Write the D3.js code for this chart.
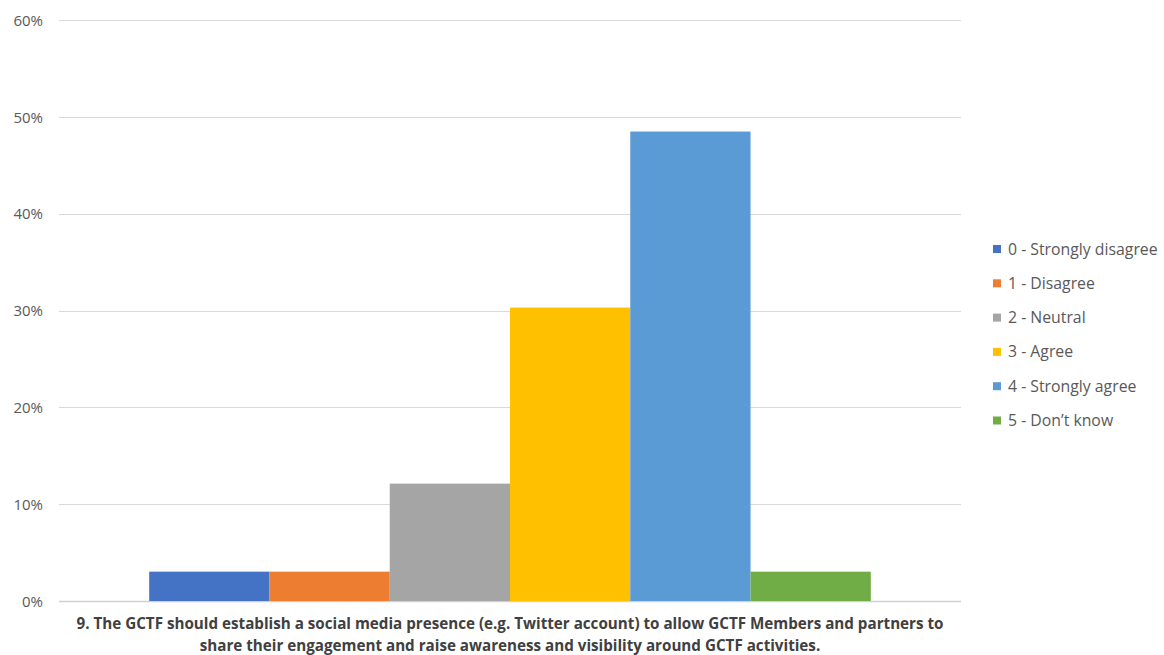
<!DOCTYPE html>
<html>
<head>
<meta charset="utf-8">
<script src="https://cdn.jsdelivr.net/npm/d3@7"></script>
<style>
  html, body { margin: 0; padding: 0; background: #fff; }
  svg { display: block; }
</style>
</head>
<body>
<svg id="chart" width="1164" height="655"></svg>
<script>
const categories = ["0 - Strongly disagree", "1 - Disagree", "2 - Neutral", "3 - Agree", "4 - Strongly agree", "5 - Don\u2019t know"];
const values = [0.0303, 0.0303, 0.1212, 0.3030, 0.4848, 0.0303];
const colors = ["#4472C4", "#ED7D31", "#A5A5A5", "#FFC000", "#5B9BD5", "#70AD47"];
const yTicks = [0, 0.1, 0.2, 0.3, 0.4, 0.5, 0.6];
const titleLines = [
  "9. The GCTF should establish a social media presence (e.g. Twitter account) to allow GCTF Members and partners to",
  "share their engagement and raise awareness and visibility around GCTF activities."
];

const font = "'Open Sans', 'Liberation Sans', sans-serif";
const svg = d3.select("#chart");
const plot = { left: 59, right: 961, top: 20, bottom: 601 };

const y = d3.scaleLinear().domain([0, 0.6]).range([plot.bottom, plot.top]);
const group = d3.scaleBand().domain(["q"]).range([plot.left, plot.right]).paddingInner(0).paddingOuter(0.125);
const x = d3.scaleBand().domain(categories).range([0, group.bandwidth()]).padding(0);

// gridlines
svg.append("g").selectAll("line").data(yTicks).join("line")
  .attr("x1", plot.left).attr("x2", plot.right)
  .attr("y1", d => Math.round(y(d)) + 0.5).attr("y2", d => Math.round(y(d)) + 0.5)
  .attr("stroke", d => d === 0 ? "#d0d0d0" : "#d9d9d9").attr("stroke-width", d => d === 0 ? 1.5 : 1.2);

// y axis labels
const yAxis = d3.axisLeft(y).tickValues(yTicks).tickFormat(d3.format(".0%")).tickSize(0).tickPadding(0);
const ga = svg.append("g").attr("transform", `translate(43,0)`).call(yAxis);
ga.select(".domain").remove();
ga.selectAll("text").attr("font-family", font).attr("font-size", 15).attr("fill", "#595959").attr("dy", "0.35em");

// bars
const g0 = group("q");
svg.append("g").selectAll("rect").data(categories).join("rect")
  .attr("x", d => g0 + x(d))
  .attr("width", x.bandwidth())
  .attr("y", (d, i) => y(values[i]))
  .attr("height", (d, i) => y(0) - y(values[i]))
  .attr("fill", (d, i) => colors[i]);

// title under axis
svg.append("g").selectAll("text").data(titleLines).join("text")
  .attr("x", 510).attr("y", (d, i) => 629 + i * 21.5)
  .attr("text-anchor", "middle")
  .attr("font-family", font).attr("font-size", 15.2).attr("font-weight", "bold")
  .attr("fill", "#404040")
  .text(d => d);

// legend
const leg = svg.append("g").selectAll("g").data(categories).join("g")
  .attr("transform", (d, i) => `translate(993, ${249 + i * 34.3})`);
leg.append("rect").attr("x", 0).attr("y", -4).attr("width", 8).attr("height", 8)
  .attr("fill", (d, i) => colors[i]);
leg.append("text").attr("x", 15).attr("y", 0).attr("dy", "0.35em")
  .attr("font-family", font).attr("font-size", 15.8).attr("fill", "#595959")
  .text(d => d);
</script>
</body>
</html>
